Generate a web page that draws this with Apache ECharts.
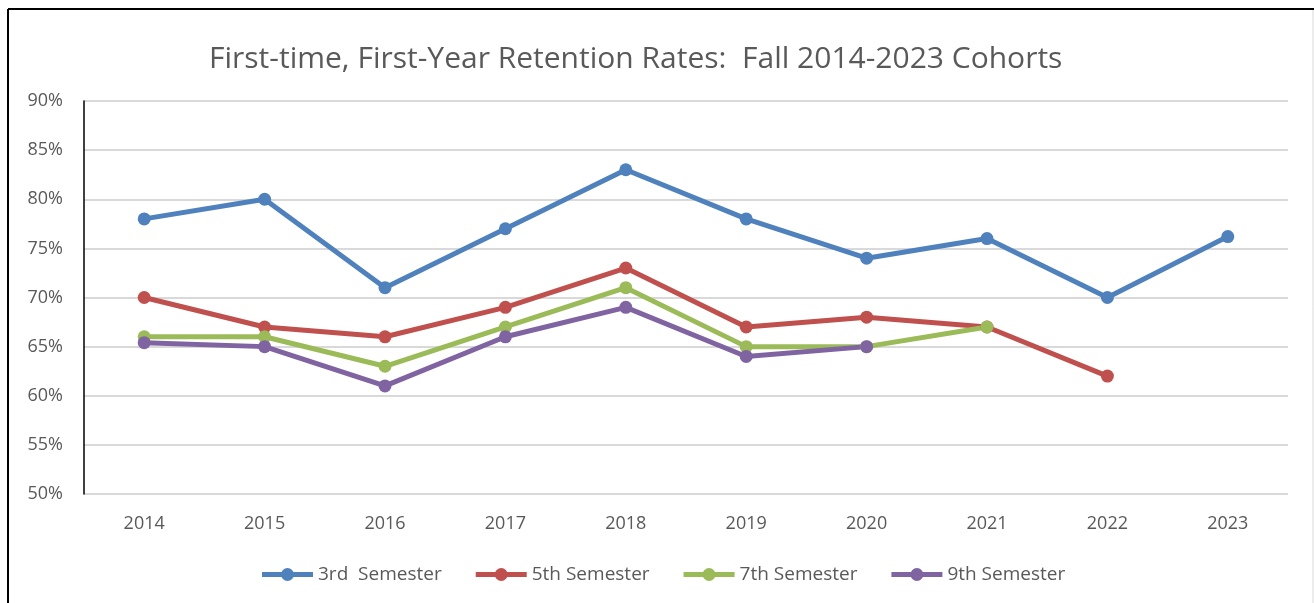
<!DOCTYPE html>
<html>
<head>
<meta charset="utf-8">
<script src="https://cdn.jsdelivr.net/npm/echarts@6/dist/echarts.min.js"></script>
<style>
  html, body { margin: 0; padding: 0; background: #ffffff; }
  #chart { width: 1314px; height: 603px; }
</style>
</head>
<body>
<div id="chart"></div>
<script>
const years = ["2014", "2015", "2016", "2017", "2018", "2019", "2020", "2021", "2022", "2023"];
const sem3 = [78, 80, 71, 77, 83, 78, 74, 76, 70, 76.2];
const sem5 = [70, 67, 66, 69, 73, 67, 68, 67, 62, null];
const sem7 = [66, 66, 63, 67, 71, 65, 65, 67, null, null];
const sem9 = [65.4, 65, 61, 66, 69, 64, 65, null, null, null];
const yTicks = [50, 55, 60, 65, 70, 75, 80, 85, 90];

const font = "Open Sans";
const grey = "#595959";
// thick line with a dot in the middle, like the legend keys of the original
const legendIcon = "path://M0,4H51V9H0Z M19,6.5A6.5,6.5 0 1,1 32,6.5A6.5,6.5 0 1,1 19,6.5Z";

function line(name, data, color) {
  return {
    name: name,
    type: "line",
    data: data,
    symbol: "circle",
    symbolSize: 13,
    connectNulls: false,
    lineStyle: { color: color, width: 5 },
    itemStyle: { color: color },
  };
}

let myChart = echarts.init(document.getElementById("chart"));
myChart.setOption({
  animation: false,
  textStyle: { fontFamily: font },
  title: {
    text: "First-time, First-Year Retention Rates:  Fall 2014-2023 Cohorts",
    left: 204,
    top: 39,
    textStyle: { fontFamily: font, fontSize: 30, fontWeight: "normal", color: grey },
  },
  grid: { left: 84, right: 26, top: 101, bottom: 109 },
  xAxis: {
    type: "category",
    data: years,
    boundaryGap: true,
    axisLine: { show: false },
    axisTick: { show: false },
    axisLabel: { color: grey, fontSize: 18, margin: 21 },
  },
  yAxis: {
    type: "value",
    min: yTicks[0],
    max: yTicks[yTicks.length - 1],
    interval: 5,
    axisLine: { show: true, lineStyle: { color: "#000000", width: 1.5 } },
    axisTick: { show: false },
    splitLine: { lineStyle: { color: "#d9d9d9", width: 2 } },
    axisLabel: { color: grey, fontSize: 18, margin: 21, formatter: "{value}%" },
  },
  legend: {
    bottom: 14,
    left: 257,
    icon: legendIcon,
    itemWidth: 51,
    itemHeight: 13,
    itemGap: 34,
    textStyle: { color: grey, fontSize: 19 },
    data: ["3rd  Semester", "5th Semester", "7th Semester", "9th Semester"],
  },
  graphic: [
    { type: "line", shape: { x1: 8, y1: 9, x2: 1314, y2: 9 }, style: { stroke: "#000", lineWidth: 2 } },
    { type: "line", shape: { x1: 8, y1: 9, x2: 8, y2: 603 }, style: { stroke: "#000", lineWidth: 2 } },
    { type: "line", shape: { x1: 1313, y1: 10, x2: 1313, y2: 603 }, style: { stroke: "#d9d9d9", lineWidth: 1 } },
  ],
  series: [
    line("3rd  Semester", sem3, "#4f81bd"),
    line("5th Semester", sem5, "#c0504d"),
    line("7th Semester", sem7, "#9bbb59"),
    line("9th Semester", sem9, "#8064a2"),
  ],
});
</script>
</body>
</html>
